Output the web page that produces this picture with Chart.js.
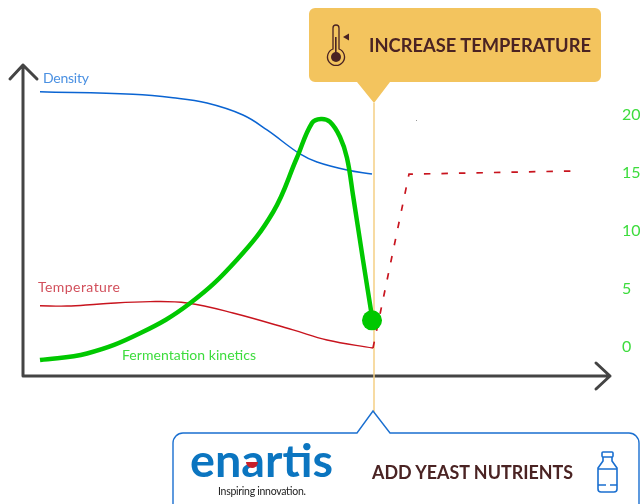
<!DOCTYPE html>
<html>
<head>
<meta charset="utf-8">
<title>Fermentation kinetics</title>
<script src="https://cdn.jsdelivr.net/npm/chart.js@4"></script>
<style>
    html, body { margin: 0; padding: 0; background: #fff; overflow: hidden; }
    #wrap { position: relative; width: 640px; height: 504px; }
    #chart, #over { position: absolute; left: 0; top: 0; }
    text { font-family: Lato, sans-serif; }
</style>
</head>
<body>
<div id="wrap">
    <canvas id="chart" width="640" height="504"></canvas>
    <svg id="over" width="640" height="504" viewBox="0 0 640 504">
        <!-- series names -->
        <text x="43" y="83" font-size="14" fill="#4a90e2" textLength="46">Density</text>
        <text x="38" y="292" font-size="14" fill="#d2505c" textLength="82">Temperature</text>
        <text x="122" y="360" font-size="14" fill="#3ddc3d" textLength="134">Fermentation kinetics</text>
        <rect x="416" y="120" width="1" height="1" fill="#999"/>

        <!-- top callout -->
        <path d="M315 8H595a6 6 0 0 1 6 6V76a6 6 0 0 1 -6 6H390L374 103L357 82H315a6 6 0 0 1 -6 -6V14a6 6 0 0 1 6 -6Z" fill="#f3c45e"/>
        <g fill="none" stroke="#4a2323" stroke-width="1.3">
            <path d="M333 49V28a3 3 0 0 1 6 0V49a8.5 8.5 0 1 1 -6 0Z"/>
        </g>
        <circle cx="336" cy="57" r="5" fill="#4a2323"/>
        <rect x="335" y="37" width="1.6" height="16" fill="#4a2323"/>
        <path d="M343 37L349 33.5V40.5Z" fill="#4a2323"/>
        <text x="369" y="52" font-size="18.5" font-weight="700" fill="#4a2323" textLength="222" lengthAdjust="spacingAndGlyphs">INCREASE TEMPERATURE</text>

        <!-- bottom callout -->
        <path d="M173 510V443a10 10 0 0 1 10 -10H357L373 411L390 433H629a10 10 0 0 1 10 10V510" fill="#fff" stroke="#1a6fd0" stroke-width="1.4"/>
        <text x="190" y="477" font-size="46" font-weight="700" fill="#0b75c0" textLength="143" lengthAdjust="spacingAndGlyphs">enartis</text>
        <path d="M246 462H258a6 6 0 0 1 -12 0Z" fill="#c8202a"/>
        <text x="218" y="495" font-size="10.5" fill="#222" textLength="88">Inspiring innovation.</text>
        <text x="372" y="479" font-size="18.5" font-weight="700" fill="#4a2323" textLength="201" lengthAdjust="spacingAndGlyphs">ADD YEAST NUTRIENTS</text>
        <g fill="none" stroke="#1a6fd0" stroke-width="1.6" stroke-linejoin="round">
            <rect x="602" y="452" width="11" height="5" rx="1"/>
            <path d="M603 457V461L598 468V489a3 3 0 0 0 3 3H614a3 3 0 0 0 3 -3V468L612 461V457"/>
            <path d="M598 469H617M598 485H606M610 485H617"/>
        </g>
    </svg>
</div>

<script>
// Werte
const yTicks = [0, 5, 10, 15, 20];

const kineticsX = [0, 4.7, 10, 15, 19.67, 23.33, 25.67, 27.2, 28.1, 29, 30, 30.7, 31.3, 32.3, 33.25];
const kineticsY = [-1.12, -0.56, 1.18, 3.77, 7.5, 11.66, 16.27, 19.31, 19.66, 19.4, 18.1, 16.29, 13.1, 7.5, 2.33];

const densityX = [0, 9.3, 13.3, 16.7, 20.3, 22.7, 26, 27.7, 30.7, 33.2];
const densityY = [22.0, 21.78, 21.49, 21.03, 20.0, 18.71, 16.64, 15.95, 15.26, 14.91];

const temperatureX = [0, 2.7, 6, 11, 14.7, 19.3, 25.3, 28.7, 33.3];
const temperatureY = [3.56, 3.53, 3.71, 3.91, 3.79, 2.93, 1.47, 0.6, -0.09];

const targetX = [33.3, 36.9, 53.1];
const targetY = [-0.09, 14.9, 15.17];

const markerX = [33.2];
const markerY = [2.3];

const eventX = [33.4, 33.4];
const eventY = [21.03, -5.6];

function toPoints(xs, ys) {
    return xs.map((x, i) => ({ x: x, y: ys[i] }));
}

// Achsen mit Pfeilspitzen
const arrowAxes = {
    id: "arrowAxes",
    beforeDatasetsDraw(chart) {
        const { ctx, chartArea: a } = chart;
        ctx.save();
        ctx.strokeStyle = "#444";
        ctx.lineWidth = 3;
        ctx.lineCap = "round";
        ctx.lineJoin = "round";
        ctx.beginPath();
        ctx.moveTo(a.left, a.top);
        ctx.lineTo(a.left, a.bottom);
        ctx.lineTo(a.right, a.bottom);
        ctx.moveTo(a.left - 13, a.top + 14);
        ctx.lineTo(a.left, a.top);
        ctx.lineTo(a.left + 14, a.top + 14);
        ctx.moveTo(a.right - 14, a.bottom - 13);
        ctx.lineTo(a.right, a.bottom);
        ctx.lineTo(a.right - 14, a.bottom + 13);
        ctx.stroke();
        ctx.restore();
    }
};

new Chart(document.getElementById("chart").getContext("2d"), {
    type: "scatter",
    data: {
        datasets: [
            { label: "Event", data: toPoints(eventX, eventY), showLine: true, borderColor: "#f5cf85", borderWidth: 1.5, pointRadius: 0, clip: false, order: 6 },
            { label: "Density", data: toPoints(densityX, densityY), showLine: true, borderColor: "#0a64d2", borderWidth: 1.5, pointRadius: 0, tension: 0.4, order: 5 },
            { label: "Temperature", data: toPoints(temperatureX, temperatureY), showLine: true, borderColor: "#c8141e", borderWidth: 1.4, pointRadius: 0, tension: 0.4, order: 4 },
            { label: "Target", data: toPoints(targetX, targetY), showLine: true, borderColor: "#c8141e", borderWidth: 1.7, borderDash: [6.5, 11], pointRadius: 0, order: 3 },
            { label: "Fermentation kinetics", data: toPoints(kineticsX, kineticsY), showLine: true, borderColor: "#00c800", borderWidth: 4.5, pointRadius: 0, tension: 0.4, order: 2 },
            { label: "Marker", data: toPoints(markerX, markerY), backgroundColor: "#00c800", borderWidth: 0, pointRadius: 10, pointHoverRadius: 10, order: 1 }
        ]
    },
    options: {
        responsive: false,
        animation: false,
        events: [],
        layout: { padding: { left: 23, right: 0, top: 65, bottom: 128 } },
        plugins: { legend: { display: false }, tooltip: { enabled: false } },
        scales: {
            x: { type: "linear", min: -1.7, max: 57, display: false },
            y: {
                type: "linear",
                position: "right",
                min: -2.5,
                max: 24.31,
                afterBuildTicks(axis) { axis.ticks = yTicks.map(v => ({ value: v })); },
                afterFit(axis) { axis.width = 30; },
                grid: { display: false, drawTicks: false },
                border: { display: false },
                ticks: {
                    color: "#3ddc3d",
                    padding: 12,
                    font: { family: "Lato", size: 16 },
                    autoSkip: false
                }
            }
        }
    },
    plugins: [arrowAxes]
});
</script>
</body>
</html>
